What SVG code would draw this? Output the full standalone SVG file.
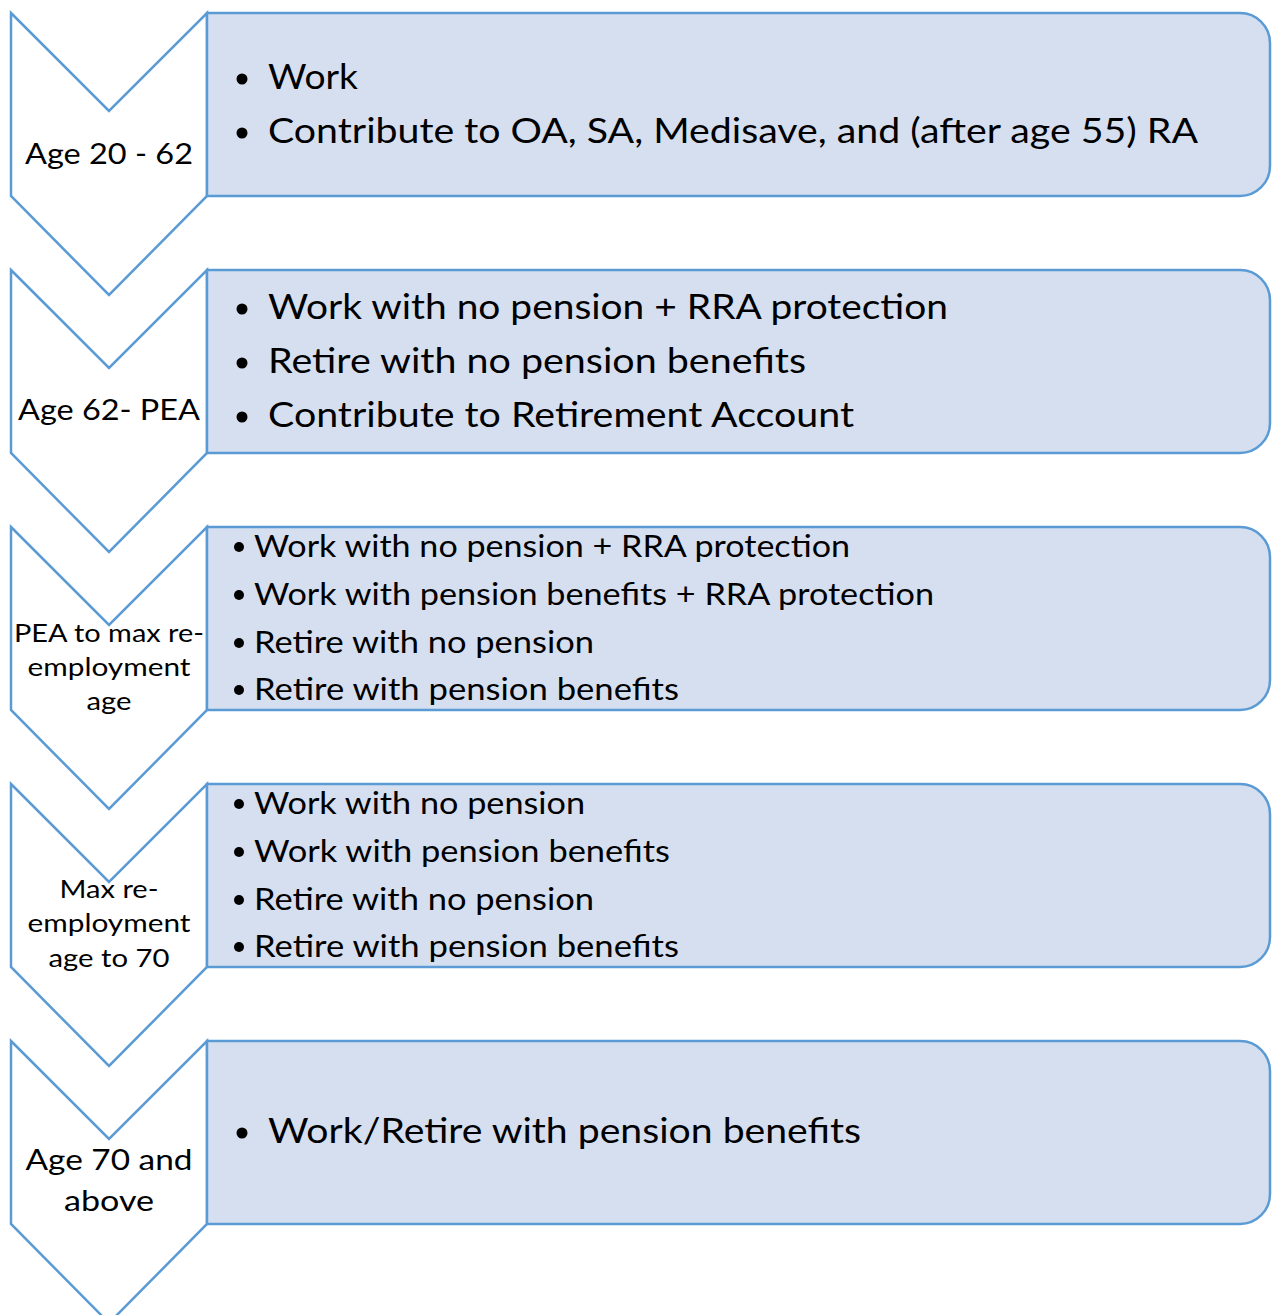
<svg xmlns="http://www.w3.org/2000/svg" width="1272" height="1315" viewBox="0 0 1272 1315">
<style>
.chev{fill:#FFFFFF;stroke:#5B9BD5;stroke-width:2.5;stroke-linejoin:miter}
.box{fill:#D6DFEF;stroke:#5B9BD5;stroke-width:2.5}
.lbl{font-family:Lato,"Open Sans",sans-serif;fill:#000;text-anchor:middle}
.l1{font-size:29px}
.l2{font-size:25.5px}
.t1{font-family:Lato,"Open Sans",sans-serif;fill:#000;font-size:35px}
.t2{font-family:Lato,"Open Sans",sans-serif;fill:#000;font-size:30px}
.bul{fill:#000}
</style>
<rect width="1272" height="1315" fill="#FFFFFF"/>
<g id="stage1">
<path class="chev" d="M11,13 L109,111 L207,13 L207,196 L109,295 L11,196 Z"/>
<path class="box" d="M207,13 H1240 A30,30 0 0 1 1270,43 V166 A30,30 0 0 1 1240,196 H207 Z"/>
<text class="lbl l1" x="109" y="164" textLength="168" lengthAdjust="spacingAndGlyphs">Age 20 - 62</text>
<circle class="bul" cx="242" cy="79" r="5.5"/>
<circle class="bul" cx="242" cy="133" r="5.5"/>
<text class="t1" x="268" y="89" textLength="90" lengthAdjust="spacingAndGlyphs">Work</text>
<text class="t1" x="268" y="143" textLength="930" lengthAdjust="spacingAndGlyphs">Contribute to OA, SA, Medisave, and (after age 55) RA</text>
</g>
<g id="stage2">
<path class="chev" d="M11,270 L109,368 L207,270 L207,453 L109,552 L11,453 Z"/>
<path class="box" d="M207,270 H1240 A30,30 0 0 1 1270,300 V423 A30,30 0 0 1 1240,453 H207 Z"/>
<text class="lbl l1" x="109" y="420" textLength="182" lengthAdjust="spacingAndGlyphs">Age 62- PEA</text>
<circle class="bul" cx="242" cy="309" r="5.5"/>
<circle class="bul" cx="242" cy="363" r="5.5"/>
<circle class="bul" cx="242" cy="417" r="5.5"/>
<text class="t1" x="268" y="319" textLength="680" lengthAdjust="spacingAndGlyphs">Work with no pension + RRA protection</text>
<text class="t1" x="268" y="373" textLength="538" lengthAdjust="spacingAndGlyphs">Retire with no pension benefits</text>
<text class="t1" x="268" y="427" textLength="586" lengthAdjust="spacingAndGlyphs">Contribute to Retirement Account</text>
</g>
<g id="stage3">
<path class="chev" d="M11,527 L109,625 L207,527 L207,710 L109,809 L11,710 Z"/>
<path class="box" d="M207,527 H1240 A30,30 0 0 1 1270,557 V680 A30,30 0 0 1 1240,710 H207 Z"/>
<text class="lbl l2" x="109" y="642" textLength="190" lengthAdjust="spacingAndGlyphs">PEA to max re-</text>
<text class="lbl l2" x="109" y="676" textLength="163" lengthAdjust="spacingAndGlyphs">employment</text>
<text class="lbl l2" x="109" y="710" textLength="45" lengthAdjust="spacingAndGlyphs">age</text>
<circle class="bul" cx="239" cy="547" r="5"/>
<circle class="bul" cx="239" cy="595" r="5"/>
<circle class="bul" cx="239" cy="643" r="5"/>
<circle class="bul" cx="239" cy="690" r="5"/>
<text class="t2" x="254" y="557" textLength="596" lengthAdjust="spacingAndGlyphs">Work with no pension + RRA protection</text>
<text class="t2" x="254" y="605" textLength="680" lengthAdjust="spacingAndGlyphs">Work with pension benefits + RRA protection</text>
<text class="t2" x="254" y="653" textLength="340" lengthAdjust="spacingAndGlyphs">Retire with no pension</text>
<text class="t2" x="254" y="700" textLength="425" lengthAdjust="spacingAndGlyphs">Retire with pension benefits</text>
</g>
<g id="stage4">
<path class="chev" d="M11,784 L109,882 L207,784 L207,967 L109,1066 L11,967 Z"/>
<path class="box" d="M207,784 H1240 A30,30 0 0 1 1270,814 V937 A30,30 0 0 1 1240,967 H207 Z"/>
<text class="lbl l2" x="109" y="898" textLength="99" lengthAdjust="spacingAndGlyphs">Max re-</text>
<text class="lbl l2" x="109" y="932" textLength="163" lengthAdjust="spacingAndGlyphs">employment</text>
<text class="lbl l2" x="109" y="967" textLength="121" lengthAdjust="spacingAndGlyphs">age to 70</text>
<circle class="bul" cx="239" cy="804" r="5"/>
<circle class="bul" cx="239" cy="852" r="5"/>
<circle class="bul" cx="239" cy="900" r="5"/>
<circle class="bul" cx="239" cy="947" r="5"/>
<text class="t2" x="254" y="814" textLength="331" lengthAdjust="spacingAndGlyphs">Work with no pension</text>
<text class="t2" x="254" y="862" textLength="416" lengthAdjust="spacingAndGlyphs">Work with pension benefits</text>
<text class="t2" x="254" y="910" textLength="340" lengthAdjust="spacingAndGlyphs">Retire with no pension</text>
<text class="t2" x="254" y="957" textLength="425" lengthAdjust="spacingAndGlyphs">Retire with pension benefits</text>
</g>
<g id="stage5">
<path class="chev" d="M11,1041 L109,1139 L207,1041 L207,1224 L109,1323 L11,1224 Z"/>
<path class="box" d="M207,1041 H1240 A30,30 0 0 1 1270,1071 V1194 A30,30 0 0 1 1240,1224 H207 Z"/>
<text class="lbl l1" x="109" y="1170" textLength="167" lengthAdjust="spacingAndGlyphs">Age 70 and</text>
<text class="lbl l1" x="109" y="1211" textLength="90" lengthAdjust="spacingAndGlyphs">above</text>
<circle class="bul" cx="242" cy="1133" r="5.5"/>
<text class="t1" x="268" y="1143" textLength="593" lengthAdjust="spacingAndGlyphs">Work/Retire with pension benefits</text>
</g>
<g id="connectors"></g>
</svg>
